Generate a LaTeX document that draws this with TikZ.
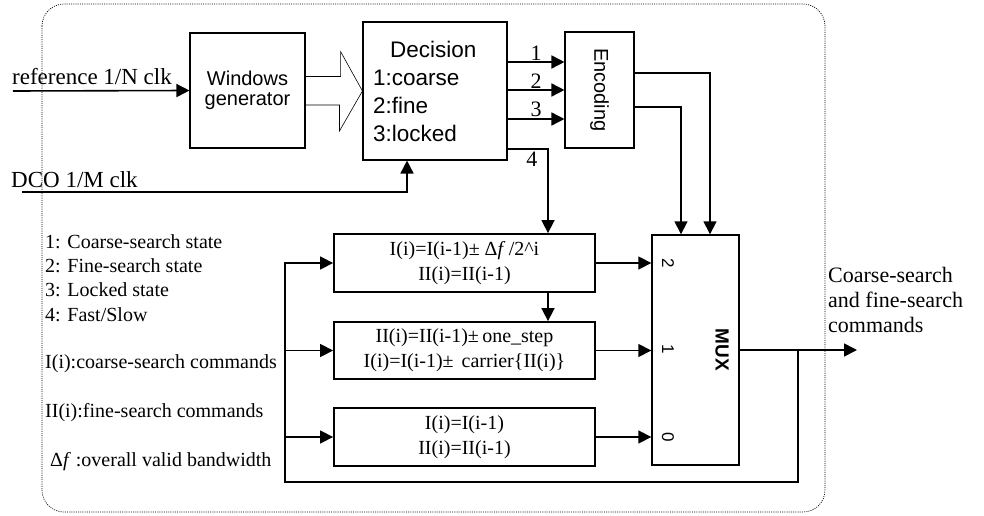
\documentclass[tikz,border=0pt]{standalone}
\usepackage{fontspec}
\setmainfont{Liberation Serif}
\setsansfont{Liberation Sans}
\usetikzlibrary{arrows.meta}

\begin{document}
\begin{tikzpicture}[x=1pt, y=-1pt,
  every node/.style={font=\fontsize{20}{24}\selectfont},
  sfbox/.style={draw, line width=1.1pt, inner sep=0pt, align=center, font=\sffamily\fontsize{20}{20}\selectfont},
  update/.style={draw, line width=1.8pt, minimum width=261pt, minimum height=58pt, inner sep=0pt, align=center, font=\fontsize{20}{25}\selectfont},
  legend/.style={anchor=west, inner sep=0pt, font=\fontsize{20}{22}\selectfont},
  muxin/.style={rotate=-90, inner sep=0pt, font=\sffamily\fontsize{17}{17}\selectfont},
  flow/.style={-{Triangle[length=13pt, width=13pt]}, line width=1.6pt}
]
\useasboundingbox (0,0) rectangle (984,516);
% Frame
\draw[line width=0.7pt, dash pattern=on 1pt off 1.2pt, rounded corners=22pt] (42,4) rectangle (825,512);

% Upper chain
\node[sfbox, minimum width=115pt, minimum height=115pt] (win) at (247.5,90.5) {Windows\\generator};
\node[sfbox, minimum width=144pt, minimum height=138pt, text width=124pt, align=left,
  font=\sffamily\fontsize{22.5}{28}\selectfont] (dec) at (435,91) {\hspace*{17pt}Decision\\1:coarse\\2:fine\\3:locked};
\node[sfbox, minimum width=69pt, minimum height=116pt] (enc) at (599.5,90) {};
\node[rotate=-90, inner sep=0pt, font=\sffamily\fontsize{20}{20}\selectfont] (enctxt) at (enc.center) {Encoding};

% Update rules
\node[update] (coarse) at (464.5,263) {I(i)=I(i-1)± Δ\textit{f}\,/2\textasciicircum i\\II(i)=II(i-1)};
\node[update, minimum height=57pt] (fine) at (464.5,350.5) {II(i)=II(i-1)±\,one\_step\\I(i)=I(i-1)±\hspace{8pt}carrier\{II(i)\}};
\node[update] (hold) at (464.5,437) {I(i)=I(i-1)\\II(i)=II(i-1)};

% MUX
\node[draw, line width=1.4pt, minimum width=87pt, minimum height=230pt] (mux) at (695.5,350) {};
\node[rotate=-90, inner sep=0pt, font=\sffamily\bfseries\fontsize{19}{19}\selectfont] (muxtxt) at (722,350) {MUX};
\node[muxin] (in2) at (668,263) {2};
\node[muxin] (in1) at (668,349) {1};
\node[muxin] (in0) at (668,437) {0};

% Inputs
\coordinate (refin) at (13,91);
\coordinate (dcoin) at (22,192);
\node[anchor=base west, inner sep=0pt, font=\fontsize{23}{23}\selectfont] (reflab) at (12,85) {reference 1/N clk};
\node[anchor=base west, inner sep=0pt, font=\fontsize{23}{23}\selectfont] (dcolab) at (11,187) {DCO 1/M clk};
\draw[flow] (refin) -- (win.west);
\draw[flow] (dcoin) -| ([xshift=-28pt]dec.south);
\draw[line width=0.6pt] (win.east) ++(0,-14) -- ++(35,0) -- ++(0,-25) -- (dec.west) -- ++(-23,40) -- ++(0,-26) -- ++(-35,0);

% States to encoder
\foreach \yy/\lab in {62/1, 90/2, 119/3}
  \draw[flow] (dec.east |- 0,\yy) -- (enc.west |- 0,\yy) node[midway, above, inner sep=1pt, font=\fontsize{22}{22}\selectfont] {\lab};
\draw[flow] (dec.east |- 0,149) -| ([xshift=83.5pt]coarse.north) node[pos=0.3, below, inner sep=2pt, font=\fontsize{22}{22}\selectfont] {4};
\draw[flow] ([xshift=83.5pt]coarse.south) -- ([xshift=83.5pt]fine.north);
\draw[flow] (enc.east |- 0,73) -| ([xshift=14.5pt]mux.north);
\draw[flow] (enc.east |- 0,107) -| ([xshift=-14.5pt]mux.north);

% Rules to MUX
\draw[flow] (coarse.east) -- (coarse.east -| mux.west);
\draw[flow] (fine.east) -- (fine.east -| mux.west);
\draw[flow] (hold.east) -- (hold.east -| mux.west);

% Output and feedback
\coordinate (outend) at (857,350);
\coordinate (tap) at (798,350);
\coordinate (fbx) at (285,482);
\draw[flow] (mux.east) -- (outend);
\draw[flow, line width=1.4pt] (tap) |- (fbx) |- (coarse.west);
\draw[flow, line width=1.4pt] (fine.west -| fbx) -- (fine.west);
\draw[flow, line width=1.4pt] (hold.west -| fbx) -- (hold.west);
\node[anchor=west, inner sep=0pt, align=left, font=\fontsize{22}{25}\selectfont] (outlab) at (828,300) {Coarse-search\\and fine-search\\commands};

% Legend
\node[legend] (leg1) at (45,242) {1: Coarse-search state};
\node[legend] (leg2) at (45,266) {2: Fine-search state};
\node[legend] (leg3) at (45,290) {3: Locked state};
\node[legend] (leg4) at (45,315) {4: Fast/Slow};
\node[legend] (leg5) at (45,364) {I(i):coarse-search commands};
\node[legend] (leg6) at (45,413) {II(i):fine-search commands};
\node[legend] (leg7) at (50,462) {Δ\textit{f} :overall valid bandwidth};
\end{tikzpicture}
\end{document}
